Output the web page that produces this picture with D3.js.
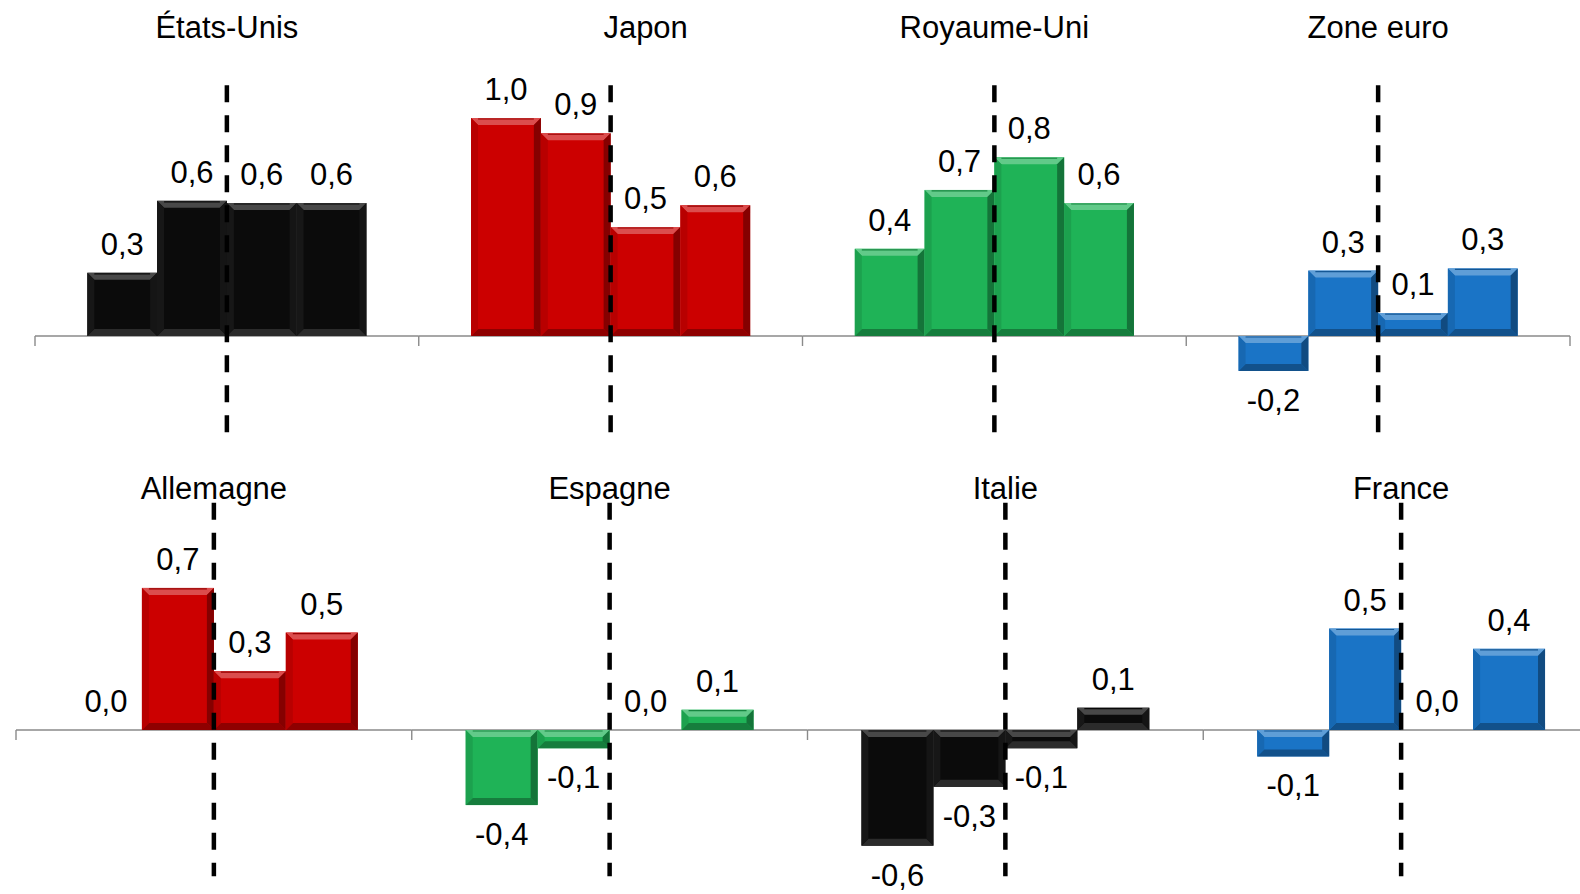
<!DOCTYPE html>
<html>
<head>
<meta charset="utf-8">
<script src="https://cdn.jsdelivr.net/npm/d3@7"></script>
<style>
  html, body { margin: 0; padding: 0; background: #fff; }
  svg { display: block; }
  text { font-family: "Liberation Sans", Arial, sans-serif; fill: #000; }
</style>
</head>
<body>
<div id="chart"></div>
<script>
'use strict';

// panels, one category of 4 bars each
const countriesTop    = ["États-Unis", "Japon", "Royaume-Uni", "Zone euro"];
const countriesBottom = ["Allemagne", "Espagne", "Italie", "France"];

// values (labels are these rounded to 1 decimal)
const etatsUnis   = [0.29, 0.62, 0.61, 0.61];
const japon       = [1.00, 0.93, 0.50, 0.60];
const royaumeUni  = [0.40, 0.67, 0.82, 0.61];
const zoneEuro    = [-0.16, 0.30, 0.105, 0.31];
const allemagne   = [0.00, 0.70, 0.29, 0.48];
const espagne     = [-0.37, -0.09, 0.00, 0.10];
const italie      = [-0.57, -0.28, -0.09, 0.11];
const france      = [-0.13, 0.50, 0.00, 0.40];

const colorsTop    = ["#0b0b0b", "#cc0000", "#1fb357", "#1a74c6"];
const colorsBottom = ["#cc0000", "#1fb357", "#0b0b0b", "#1a74c6"];

const W = 1580, H = 894;
const fr = d3.formatLocale({decimal: ",", thousands: " ", grouping: [3], currency: ["", " €"], minus: "-"});
const fmt = fr.format(".1f");

const rows = [
  { countries: countriesTop, values: [etatsUnis, japon, royaumeUni, zoneEuro], colors: colorsTop,
    x0: 35, x1: 1570, base: 336, ppu: 218, titleY: 38, dash: [1.15, -0.48] },
  { countries: countriesBottom, values: [allemagne, espagne, italie, france], colors: colorsBottom,
    x0: 16, x1: 1599, base: 730, ppu: 203, titleY: 499, dash: [1.12, -0.72] }
];
const titleShift = { "Japon": 35 };

const svg = d3.select('#chart').append('svg')
  .attr('width', W).attr('height', H);

const bevelColors = function(c) {
  const isBlack = d3.hsl(c).l < 0.1;
  return {
    top:    d3.interpolateRgb(c, "#ffffff")(isBlack ? 0.25 : 0.3),
    bottom: isBlack ? d3.interpolateRgb(c, "#ffffff")(0.13) : d3.interpolateRgb(c, "#000000")(0.3),
    left:   isBlack ? d3.interpolateRgb(c, "#ffffff")(0.05) : d3.interpolateRgb(c, "#000000")(0.1),
    right:  isBlack ? d3.interpolateRgb(c, "#ffffff")(0.04) : d3.interpolateRgb(c, "#000000")(0.35)
  };
};

rows.forEach(function(row) {
  const xp = d3.scaleBand().domain(row.countries).range([row.x0, row.x1]).padding(0);
  const y = d3.scaleLinear().domain([0, 1]).range([row.base, row.base - row.ppu]);
  const gap = xp.bandwidth() * 1.5 / 5.5 / 2;
  const xb = d3.scaleBand().domain(d3.range(4)).range([gap, xp.bandwidth() - gap]).padding(0);

  const g = svg.append('g');

  // category axis, one per panel with end ticks
  const axis = g.append('g');
  axis.selectAll('line.base')
    .data(row.countries)
    .enter().append('line')
    .attr('x1', d => xp(d)).attr('x2', d => xp(d) + xp.bandwidth())
    .attr('y1', y(0)).attr('y2', y(0))
    .style('stroke', '#8a8a8a').style('stroke-width', 1.4);
  axis.selectAll('line.tick')
    .data(d3.range(row.countries.length + 1))
    .enter().append('line')
    .attr('x1', i => row.x0 + i * xp.bandwidth()).attr('x2', i => row.x0 + i * xp.bandwidth())
    .attr('y1', y(0)).attr('y2', y(0) + 10)
    .style('stroke', '#8a8a8a').style('stroke-width', 1.4);

  row.countries.forEach(function(name, ci) {
    const pg = g.append('g').attr('transform', `translate(${xp(name)},0)`);
    const color = row.colors[ci];
    const bc = bevelColors(color);
    const bars = row.values[ci].map((v, i) => ({v: v, i: i}));

    const bar = pg.selectAll('g.bar')
      .data(bars.filter(d => d.v !== 0))
      .enter().append('g');

    bar.each(function(d) {
      const x = xb(d.i), w = xb.bandwidth();
      const top = Math.min(y(d.v), y(0)), h = Math.abs(y(d.v) - y(0));
      const b = Math.min(7, h / 2.2);
      const s = d3.select(this);
      s.append('rect').attr('x', x).attr('y', top).attr('width', w).attr('height', h)
        .style('fill', color);
      const poly = (pts, fill) => s.append('polygon')
        .attr('points', pts.map(p => p.join(',')).join(' ')).style('fill', fill);
      poly([[x, top], [x + w, top], [x + w - b, top + b], [x + b, top + b]], bc.top);
      poly([[x, top + h], [x + w, top + h], [x + w - b, top + h - b], [x + b, top + h - b]], bc.bottom);
      poly([[x, top], [x + b, top + b], [x + b, top + h - b], [x, top + h]], bc.left);
      poly([[x + w, top], [x + w - b, top + b], [x + w - b, top + h - b], [x + w, top + h]], bc.right);
      s.append('line').attr('x1', x + b).attr('x2', x + w - b)
        .attr('y1', top + 1).attr('y2', top + 1)
        .style('stroke', d3.interpolateRgb(color, "#000")(0.25)).style('stroke-width', 1.2);
    });

    // dashed vertical separator in panel centre
    pg.append('line')
      .attr('x1', xp.bandwidth() / 2).attr('x2', xp.bandwidth() / 2)
      .attr('y1', y(row.dash[0])).attr('y2', y(row.dash[1]))
      .style('stroke', '#000').style('stroke-width', 4.5)
      .style('stroke-dasharray', '17,13');

    // value labels
    pg.selectAll('text.lbl')
      .data(bars)
      .enter().append('text')
      .attr('x', d => xb(d.i) + xb.bandwidth() / 2)
      .attr('y', d => d.v > 0 ? y(d.v) - 18 : (d.v < 0 ? y(d.v) + 40 : y(0) - 18))
      .attr('text-anchor', 'middle')
      .style('font-size', '31px')
      .text(d => fmt(d.v));

    // panel title
    pg.append('text')
      .attr('x', xp.bandwidth() / 2 + (titleShift[name] || 0))
      .attr('y', row.titleY)
      .attr('text-anchor', 'middle')
      .style('font-size', '31px')
      .text(name);
  });
});
</script>
</body>
</html>
